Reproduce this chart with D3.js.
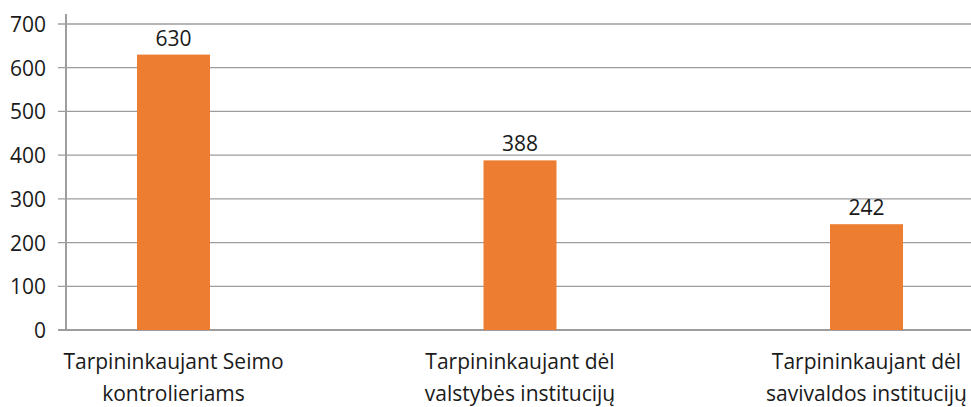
<!DOCTYPE html>
<html>
<head>
<meta charset="utf-8">
<script src="https://cdn.jsdelivr.net/npm/d3@7"></script>
<style>
  body { margin: 0; background: #fff; }
  svg text { font-family: "Open Sans", "Noto Sans", sans-serif; fill: #1a1a1a; }
</style>
</head>
<body>
<svg id="chart" width="971" height="407"></svg>
<script>
// data
var categories = [
  ["Tarpininkaujant Seimo", "kontrolieriams"],
  ["Tarpininkaujant dėl", "valstybės institucijų"],
  ["Tarpininkaujant dėl", "savivaldos institucijų"]
]
var values = [630, 388, 242]
var yTicks = [0, 100, 200, 300, 400, 500, 600, 700]

var BAR_COLOR = "#ED7D31"
var GRID_COLOR = "#9d9d9d"
var FS = 21

var svg = d3.select("#chart")
var W = 971
var axisX = 66

var y = d3.scaleLinear().domain([0, 700]).range([330, 24])
var x = d3.scalePoint().domain(d3.range(values.length)).range([173.5, 866.5])
var barW = 73

// gridlines (with the little tick stubs left of the axis)
svg.append("g").selectAll("line")
  .data(yTicks)
  .join("line")
    .attr("x1", axisX - 8).attr("x2", W)
    .attr("y1", d => y(d)).attr("y2", d => y(d))
    .attr("stroke", GRID_COLOR)
    .attr("stroke-width", d => d == 0 ? 2 : 1.3)

// y axis
var yAxis = d3.axisLeft(y).tickValues(yTicks).tickSize(0).tickPadding(20)
var gy = svg.append("g").attr("transform", "translate(" + axisX + ",0)").call(yAxis)
gy.select(".domain").remove()
gy.selectAll("text").style("font-size", FS + "px").attr("dy", "0.36em")
svg.append("line")
  .attr("x1", axisX).attr("x2", axisX)
  .attr("y1", 14).attr("y2", y(0))
  .attr("stroke", GRID_COLOR).attr("stroke-width", 2)

// bars
svg.append("g").selectAll("rect")
  .data(values)
  .join("rect")
    .attr("x", (d, i) => x(i) - barW / 2)
    .attr("width", barW)
    .attr("y", d => y(d))
    .attr("height", d => y(0) - y(d))
    .attr("fill", BAR_COLOR)

// value labels
svg.append("g").selectAll("text")
  .data(values)
  .join("text")
    .attr("x", (d, i) => x(i))
    .attr("y", d => y(d) - 9)
    .attr("text-anchor", "middle")
    .style("font-size", FS + "px")
    .text(d => d)

// category labels
var cat = svg.append("g").selectAll("text")
  .data(categories)
  .join("text")
    .attr("x", (d, i) => x(i))
    .attr("y", 369)
    .attr("text-anchor", "middle")
    .style("font-size", FS + "px")
cat.selectAll("tspan")
  .data(d => d)
  .join("tspan")
    .attr("x", function () { return d3.select(this.parentNode).attr("x") })
    .attr("dy", (d, i) => i == 0 ? 0 : 32)
    .text(d => d)
</script>
</body>
</html>
